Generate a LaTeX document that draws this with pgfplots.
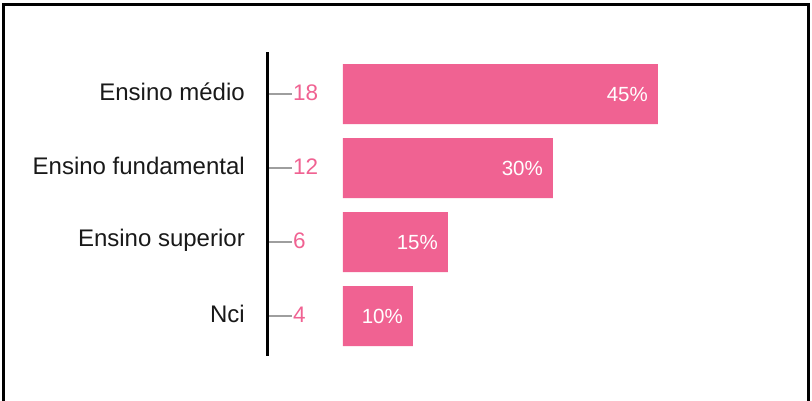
\documentclass[border=0pt]{standalone}
\usepackage{pgfplots}
\usepackage{pgfplotstable}
\usepackage{fontspec}
\pgfplotsset{compat=1.18}
\setmainfont{Liberation Sans}
\definecolor{barpink}{HTML}{F06292}
\definecolor{tickgray}{HTML}{9E9E9E}

% y = row position (top row = 3), count = people, pct = share of 40
\pgfplotstableread{
y count pct
3 18 45
2 12 30
1 6 15
0 4 10
}\escolaridade

\begin{document}
\begin{tikzpicture}[x=1pt,y=1pt]
\useasboundingbox (0,0) rectangle (812,401);
% outer frame (bottom edge is cut off in the reference)
\draw[line width=3pt] (3.5,0) -- (3.5,396) -- (808.5,396) -- (808.5,0);

\begin{axis}[
    at={(268pt,45pt)}, anchor=south west,
    x=7pt, y=74pt,
    xmin=-10.714, xmax=66,
    ymin=-0.54, ymax=3.57,
    axis x line=none,
    axis y line*=left,
    y axis line style={black, line width=3pt},
    ytick={0,1,2,3},
    yticklabels={Nci, Ensino superior, Ensino fundamental, Ensino médio},
    yticklabel style={font=\fontsize{24}{28}\selectfont, inner sep=0pt, xshift=-23pt, yshift=2pt, text=black!90},
    tick align=inside,
    major tick length=24pt,
    ytick style={tickgray, line width=2.2pt},
    /pgf/number format/assume math mode=true,
    clip=false,
]
\addplot[xbar, bar width=60pt, fill=barpink, draw=none,
    point meta=x,
    nodes near coords={\pgfmathprintnumber{\pgfplotspointmeta}\%},
    nodes near coords align={anchor=east},
    every node near coord/.append style={white, inner sep=0pt, xshift=-10pt,
        font=\fontsize{20.5}{24}\selectfont}]
    table[x=pct, y=y] {\escolaridade};

\addplot[draw=none, mark=none,
    point meta=explicit,
    nodes near coords={\pgfmathprintnumber{\pgfplotspointmeta}},
    nodes near coords align={anchor=west},
    every node near coord/.append style={barpink, inner sep=0pt, xshift=25pt, yshift=1pt,
        font=\fontsize{22.5}{26}\selectfont}]
    table[x expr=-10.714, y=y, meta=count] {\escolaridade};
\end{axis}
\end{tikzpicture}
\end{document}
